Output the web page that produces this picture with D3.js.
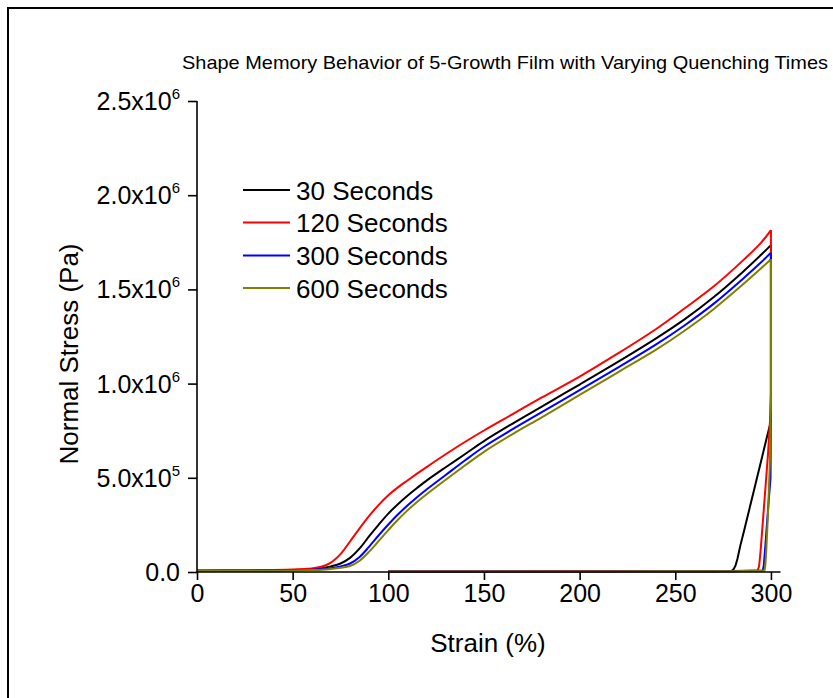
<!DOCTYPE html>
<html>
<head>
<meta charset="utf-8">
<script src="https://cdn.jsdelivr.net/npm/d3@7"></script>
<style>
  html, body { margin: 0; padding: 0; background: #fff; }
  svg { display: block; font-family: "Liberation Sans", Arial, sans-serif; }
</style>
</head>
<body>
<svg id="chart" width="833" height="698"></svg>
<script>
// Stress values are in units of 10^6 Pa; strain in %.
const seriesNames = ["30 Seconds", "120 Seconds", "300 Seconds", "600 Seconds"];
const seriesColors = ["#000000", "#ff0000", "#0000ff", "#808000"];

// Loading (stretch) branch, shared strain grid
const strain = [0, 25, 50, 60, 65, 70, 75, 80, 85, 90, 95, 100, 105, 110, 115, 120, 130, 140, 150, 165, 180, 200, 220, 240, 255, 270, 285, 295, 300];
const load30  = [0.007, 0.008, 0.011, 0.015, 0.020, 0.030, 0.045, 0.075, 0.125, 0.190, 0.252, 0.310, 0.360, 0.405, 0.446, 0.485, 0.556, 0.625, 0.695, 0.788, 0.877, 0.995, 1.115, 1.240, 1.342, 1.458, 1.590, 1.685, 1.735];
const load120 = [0.008, 0.009, 0.013, 0.019, 0.028, 0.050, 0.095, 0.162, 0.232, 0.298, 0.356, 0.407, 0.449, 0.486, 0.522, 0.557, 0.625, 0.690, 0.751, 0.838, 0.925, 1.037, 1.160, 1.290, 1.400, 1.515, 1.650, 1.750, 1.815];
const load300 = [0.006, 0.007, 0.010, 0.012, 0.015, 0.020, 0.030, 0.045, 0.080, 0.135, 0.195, 0.252, 0.305, 0.353, 0.397, 0.438, 0.515, 0.592, 0.665, 0.758, 0.847, 0.965, 1.085, 1.208, 1.310, 1.423, 1.553, 1.645, 1.695];
const load600 = [0.005, 0.006, 0.008, 0.010, 0.012, 0.016, 0.022, 0.032, 0.060, 0.108, 0.165, 0.222, 0.277, 0.327, 0.372, 0.413, 0.490, 0.565, 0.638, 0.732, 0.820, 0.940, 1.060, 1.180, 1.282, 1.395, 1.523, 1.613, 1.660];

// Fixing / unloading / recovery branch for each series
const back30Strain  = [300, 300, 298, 295, 292, 289, 286, 284, 282.5, 281.5, 280.5, 279.5, 270, 240, 200, 150, 100];
const back30Stress  = [1.735, 0.80, 0.72, 0.595, 0.47, 0.345, 0.22, 0.14, 0.07, 0.035, 0.015, 0.006, 0.004, 0.005, 0.004, 0.003, 0.003];
const back120Strain = [300, 300, 299.5, 298.5, 297, 295.5, 294.5, 293.8, 293, 280, 250, 200, 150, 100];
const back120Stress = [1.815, 0.95, 0.80, 0.63, 0.43, 0.23, 0.10, 0.03, 0.008, 0.005, 0.004, 0.005, 0.004, 0.003];
const back300Strain = [300, 300, 299.8, 299, 298.1, 297, 296.3, 295.8, 280, 250, 200, 150, 100];
const back300Stress = [1.695, 0.85, 0.50, 0.40, 0.28, 0.13, 0.04, 0.008, 0.004, 0.004, 0.003, 0.003, 0.003];
const back600Strain = [300, 300, 299.5, 298.5, 297.5, 297, 296.6, 280, 250, 200, 150, 100];
const back600Stress = [1.66, 0.90, 0.60, 0.32, 0.10, 0.03, 0.008, 0.004, 0.004, 0.003, 0.003, 0.003];

const xMajorTicks = [0, 50, 100, 150, 200, 250, 300];
const yMajorTicks = [0, 0.5, 1.0, 1.5, 2.0, 2.5];

const loads = [load30, load120, load300, load600];
const backs = [[back30Strain, back30Stress], [back120Strain, back120Stress], [back300Strain, back300Stress], [back600Strain, back600Stress]];

const svg = d3.select("#chart");

// outer frame
svg.append("rect").attr("x", 8).attr("y", 8).attr("width", 840).attr("height", 700)
  .attr("fill", "none").attr("stroke", "#000").attr("stroke-width", 2);

const x = d3.scaleLinear().domain([0, 305]).range([197, 780.5]);
const y = d3.scaleLinear().domain([0, 2.5]).range([572, 101]);

// title
svg.append("text").attr("x", 182).attr("y", 69)
  .attr("textLength", 646).attr("lengthAdjust", "spacingAndGlyphs")
  .style("font-size", "19px")
  .text("Shape Memory Behavior of 5-Growth Film with Varying Quenching Times");

// curves
const lineLoad = d3.line().x(d => x(d[0])).y(d => y(d[1])).curve(d3.curveCatmullRom.alpha(0.5));
const lineBack = d3.line().x(d => x(d[0])).y(d => y(d[1]));
const plot = svg.append("g");
loads.forEach((ld, i) => {
  const pts = strain.map((s, j) => [s, ld[j]]);
  plot.append("path").attr("d", lineLoad(pts)).attr("fill", "none")
    .attr("stroke", seriesColors[i]).attr("stroke-width", 2).attr("stroke-linejoin", "round");
});
backs.forEach((b, i) => {
  const pts = b[0].map((s, j) => [s, b[1][j]]);
  plot.append("path").attr("d", lineBack(pts)).attr("fill", "none")
    .attr("stroke", seriesColors[i]).attr("stroke-width", 2).attr("stroke-linejoin", "round");
});

// x axis
const xAxis = svg.append("g").attr("transform", "translate(0,572)");
xAxis.call(d3.axisBottom(x).tickValues(d3.range(0, 301, 25)).tickSize(5).tickFormat(""));
xAxis.call(d3.axisBottom(x).tickValues(xMajorTicks).tickSize(8).tickPadding(4).tickFormat(d3.format("d")));
xAxis.selectAll("path.domain").attr("d", `M${x(0)},0H${x(305)}`);
xAxis.selectAll("line, path").attr("stroke", "#000").attr("stroke-width", 1.6);
xAxis.selectAll("text").style("font-size", "25px").attr("fill", "#000")
  .attr("font-family", "Liberation Sans, Arial, sans-serif");

// y axis
const yAxis = svg.append("g").attr("transform", "translate(197,0)");
yAxis.call(d3.axisLeft(y).tickValues(d3.range(0, 2.51, 0.25)).tickSize(5).tickFormat(""));
yAxis.call(d3.axisLeft(y).tickValues(yMajorTicks).tickSize(9).tickPadding(8).tickFormat(""));
yAxis.selectAll("path.domain").attr("d", `M0,${y(2.5)}V${y(0)}`);
yAxis.selectAll("line, path").attr("stroke", "#000").attr("stroke-width", 1.6);

// y tick labels with superscript exponents
const yl = svg.append("g").attr("font-family", "Liberation Sans, Arial, sans-serif");
yMajorTicks.forEach(v => {
  const t = yl.append("text").attr("x", 180).attr("y", y(v) + 9)
    .attr("text-anchor", "end").style("font-size", "25px");
  if (v === 0) {
    t.text("0.0");
  } else {
    const exp = v < 1 ? 5 : 6;
    const mant = v < 1 ? v * 10 : v;
    t.append("tspan").text(mant.toFixed(1) + "x10");
    t.append("tspan").attr("dy", -11).style("font-size", "15px").text(exp);
  }
});

// axis titles
svg.append("text").attr("x", 488).attr("y", 652).attr("text-anchor", "middle")
  .style("font-size", "26px").text("Strain (%)");
svg.append("text").attr("transform", "translate(78,354) rotate(-90)").attr("text-anchor", "middle")
  .style("font-size", "26px").text("Normal Stress (Pa)");

// legend
const legend = svg.append("g");
const legendY = [190, 222.5, 255.5, 288];
seriesNames.forEach((n, i) => {
  legend.append("line").attr("x1", 243).attr("x2", 290).attr("y1", legendY[i]).attr("y2", legendY[i])
    .attr("stroke", seriesColors[i]).attr("stroke-width", 2);
  legend.append("text").attr("x", 296).attr("y", legendY[i] + 9.5)
    .style("font-size", "26px").text(n);
});
</script>
</body>
</html>
